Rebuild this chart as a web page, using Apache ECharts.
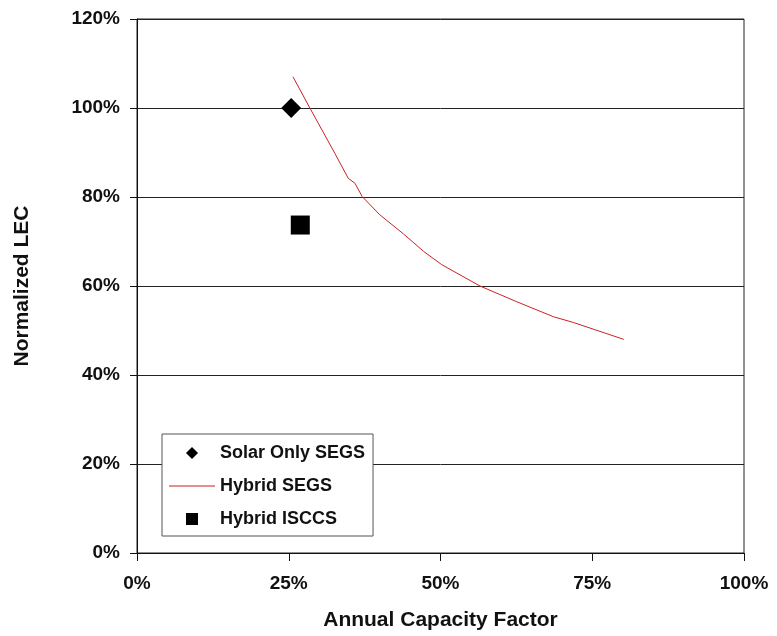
<!DOCTYPE html>
<html>
<head>
<meta charset="utf-8">
<script src="https://cdn.jsdelivr.net/npm/echarts@6/dist/echarts.min.js"></script>
<style>
  html, body { margin: 0; padding: 0; background: #fff; }
  #main { width: 777px; height: 636px; }
</style>
</head>
<body>
<div id="main"></div>
<script>
  var chart = echarts.init(document.getElementById('main'));

  // capacity factor (%) / normalized LEC (%)
  var solarOnly = [[25.4, 100]];
  var hybridIsccs = [[26.9, 73.7]];
  var hybridSegsX = [25.7, 28.6, 32.6, 34.8, 35.9, 37.1, 40.0, 43.9, 47.2, 50.2, 56.5, 62.5, 68.6, 71.9, 80.2];
  var hybridSegsY = [107, 99.7, 89.8, 84.2, 83.1, 80.1, 76.0, 71.7, 67.8, 64.8, 60.0, 56.5, 53.1, 51.8, 48.0];
  var xTicks = [0, 25, 50, 75, 100];
  var yTicks = [0, 20, 40, 60, 80, 100, 120];

  var hybridSegs = hybridSegsX.map(function (x, i) { return [x, hybridSegsY[i]]; });

  var font = 'Liberation Sans, Arial, sans-serif';
  // legend icons drawn in a 46x13 box so they keep their size
  var box = 'M0 0 M46 13 ';
  var diamondIcon = 'path://' + box + 'M17 6.5 L23 0.5 L29 6.5 L23 12.5 Z';
  var lineIcon = 'path://' + box + 'M0 6 L46 6 L46 7 L0 7 Z';
  var squareIcon = 'path://' + box + 'M17 0.5 L29 0.5 L29 12.5 L17 12.5 Z';

  chart.setOption({
    animation: false,
    backgroundColor: '#fff',
    grid: { left: 137, top: 19, right: 33, bottom: 82, show: true, borderColor: '#222', borderWidth: 1 },
    legend: {
      orient: 'vertical',
      left: 162,
      top: 434,
      padding: [10, 8, 8, 7],
      itemWidth: 46,
      itemHeight: 13,
      itemGap: 15,
      symbolKeepAspect: true,
      backgroundColor: '#fff',
      borderColor: '#555',
      borderWidth: 1,
      textStyle: { fontFamily: font, fontWeight: 'bold', fontSize: 18, color: '#111' },
      data: [
        { name: 'Solar Only SEGS', icon: diamondIcon },
        { name: 'Hybrid SEGS', icon: lineIcon },
        { name: 'Hybrid ISCCS', icon: squareIcon }
      ]
    },
    xAxis: {
      type: 'value',
      min: xTicks[0],
      max: xTicks[xTicks.length - 1],
      interval: 25,
      name: 'Annual Capacity Factor',
      nameLocation: 'middle',
      nameGap: 57,
      nameTextStyle: { fontFamily: font, fontWeight: 'bold', fontSize: 21, color: '#111' },
      axisLine: { lineStyle: { color: '#111' } },
      axisTick: { show: true, length: 8, lineStyle: { color: '#111' } },
      axisLabel: { formatter: '{value}%', margin: 21, fontFamily: font, fontWeight: 'bold', fontSize: 19, color: '#111' },
      splitLine: { show: false }
    },
    yAxis: {
      type: 'value',
      min: yTicks[0],
      max: yTicks[yTicks.length - 1],
      interval: 20,
      name: 'Normalized LEC',
      nameLocation: 'middle',
      nameGap: 104,
      nameTextStyle: { fontFamily: font, fontWeight: 'bold', fontSize: 21, color: '#111' },
      axisLine: { lineStyle: { color: '#111' } },
      axisTick: { show: true, length: 7, lineStyle: { color: '#111' } },
      axisLabel: { formatter: '{value}%', margin: 17, fontFamily: font, fontWeight: 'bold', fontSize: 19, color: '#111' },
      splitLine: { show: true, lineStyle: { color: '#222', width: 1 } }
    },
    series: [
      {
        name: 'Solar Only SEGS',
        type: 'scatter',
        symbol: 'diamond',
        symbolSize: 20,
        itemStyle: { color: '#000', opacity: 1 },
        data: solarOnly,
        z: 3
      },
      {
        name: 'Hybrid SEGS',
        type: 'line',
        symbol: 'none',
        showSymbol: false,
        lineStyle: { color: '#cc2222', width: 1 },
        itemStyle: { color: '#cc2222' },
        data: hybridSegs,
        z: 4
      },
      {
        name: 'Hybrid ISCCS',
        type: 'scatter',
        symbol: 'rect',
        symbolSize: 19,
        itemStyle: { color: '#000', opacity: 1 },
        data: hybridIsccs,
        z: 3
      }
    ]
  });
</script>
</body>
</html>
